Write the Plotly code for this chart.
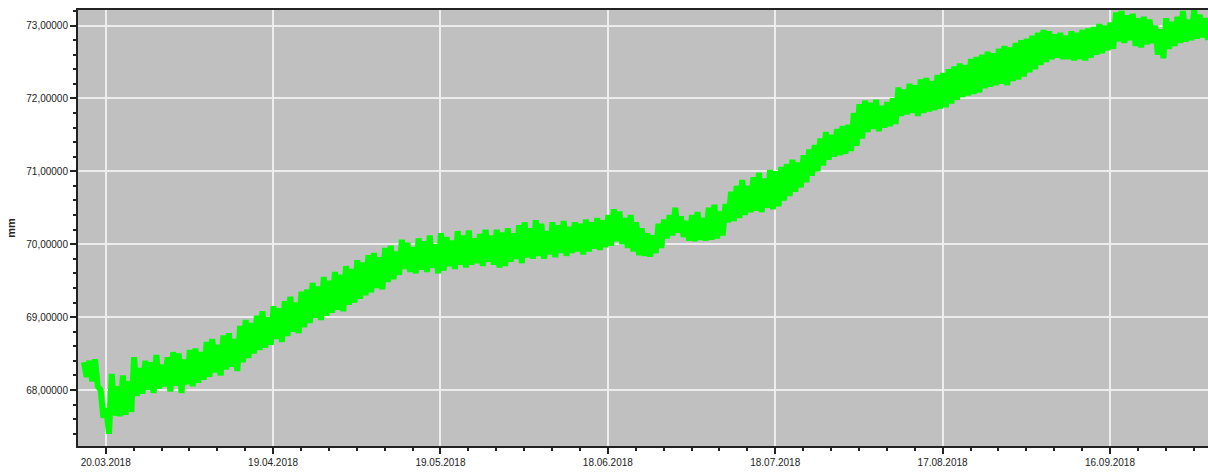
import plotly.graph_objects as go
import pandas as pd

start_time = "2018-03-16 02:00"

# Daily upper (first half-day) and lower (second half-day) readings, mm
upper = [
    68.38, 68.40, 68.42, 68.00, 67.75, 68.22, 68.05, 68.20, 68.12, 68.45,
    68.30, 68.40, 68.38, 68.48, 68.35, 68.45, 68.52, 68.50, 68.42, 68.55,
    68.57, 68.52, 68.66, 68.70, 68.62, 68.75, 68.78, 68.70, 68.88, 68.96,
    68.92, 69.02, 69.08, 69.00, 69.15, 69.12, 69.22, 69.28, 69.20, 69.35,
    69.38, 69.47, 69.42, 69.55, 69.50, 69.62, 69.58, 69.70, 69.66, 69.78,
    69.75, 69.85, 69.88, 69.82, 69.95, 69.98, 69.90, 70.06, 70.02, 69.96,
    70.08, 70.04, 70.12, 70.00, 70.15, 70.10, 70.05, 70.18, 70.12, 70.19,
    70.08, 70.14, 70.20, 70.12, 70.20, 70.16, 70.22, 70.15, 70.26, 70.30,
    70.22, 70.33, 70.28, 70.18, 70.30, 70.26, 70.32, 70.24, 70.30, 70.28,
    70.34, 70.30, 70.36, 70.33, 70.40, 70.48, 70.45, 70.36, 70.40, 70.30,
    70.22, 70.15, 70.12, 70.28, 70.34, 70.40, 70.50, 70.38, 70.32, 70.40,
    70.44, 70.36, 70.50, 70.54, 70.45, 70.55, 70.72, 70.80, 70.88, 70.80,
    70.92, 70.98, 70.90, 71.02, 71.00, 71.06, 71.10, 71.16, 71.12, 71.22,
    71.30, 71.36, 71.45, 71.54, 71.50, 71.58, 71.62, 71.64, 71.80, 71.92,
    71.97, 71.94, 71.98, 71.90, 71.95, 72.00, 72.15, 72.12, 72.20, 72.18,
    72.26, 72.28, 72.24, 72.32, 72.35, 72.40, 72.44, 72.48, 72.46, 72.54,
    72.57, 72.60, 72.64, 72.62, 72.68, 72.72, 72.70, 72.76, 72.80, 72.82,
    72.86, 72.90, 72.94, 72.92, 72.88, 72.90, 72.86, 72.92, 72.90, 72.94,
    72.96, 72.98, 73.02, 73.00, 73.04, 73.18, 73.20, 73.14, 73.16, 73.10,
    73.12, 73.08, 73.00, 72.95, 73.10, 73.05, 73.12, 73.20, 73.08, 73.22,
    73.15, 73.10,
]
lower = [
    68.18, 68.12, 68.05, 67.62, 67.40, 67.65, 67.64, 67.66, 67.70, 67.92,
    67.95, 68.00, 67.96, 68.02, 68.05, 67.98, 68.06, 67.96, 68.08, 68.05,
    68.10, 68.14, 68.18, 68.24, 68.20, 68.28, 68.32, 68.26, 68.38, 68.44,
    68.50, 68.55, 68.58, 68.62, 68.70, 68.66, 68.74, 68.80, 68.78, 68.86,
    68.92, 68.99, 68.96, 69.02, 69.06, 69.10, 69.08, 69.17, 69.20, 69.25,
    69.30, 69.34, 69.40, 69.38, 69.48, 69.52, 69.58, 69.66, 69.62, 69.60,
    69.65, 69.62, 69.68, 69.60, 69.64, 69.70, 69.66, 69.72, 69.68, 69.72,
    69.74, 69.70, 69.76, 69.72, 69.68, 69.70, 69.76, 69.80, 69.74, 69.82,
    69.80, 69.84, 69.80, 69.86, 69.82, 69.88, 69.84, 69.88, 69.90, 69.86,
    69.90, 69.94, 69.92, 69.96, 69.98, 70.04, 70.00, 69.95, 69.90, 69.85,
    69.84, 69.83, 69.88, 69.95, 70.08, 70.12, 70.16, 70.10, 70.05, 70.04,
    70.06, 70.05, 70.06, 70.08, 70.12, 70.30, 70.32, 70.36, 70.40, 70.44,
    70.46, 70.44, 70.50, 70.48, 70.52, 70.60, 70.66, 70.72, 70.78, 70.85,
    70.94, 71.00, 71.08, 71.16, 71.20, 71.22, 71.24, 71.28, 71.35, 71.45,
    71.54, 71.58, 71.55, 71.60, 71.62, 71.65, 71.76, 71.78, 71.80, 71.76,
    71.80, 71.82, 71.84, 71.86, 71.88, 71.93, 71.98, 72.02, 72.04, 72.06,
    72.08, 72.14, 72.16, 72.18, 72.20, 72.18, 72.24, 72.26, 72.30, 72.36,
    72.40, 72.46, 72.50, 72.54, 72.56, 72.54, 72.54, 72.52, 72.54, 72.52,
    72.56, 72.60, 72.62, 72.66, 72.68, 72.78, 72.76, 72.80, 72.72, 72.70,
    72.74, 72.76, 72.60, 72.55, 72.68, 72.72, 72.76, 72.78, 72.80, 72.82,
    72.84, 72.80,
]

tick_dates = ["2018-03-20", "2018-04-19", "2018-05-19", "2018-06-18",
              "2018-07-18", "2018-08-17", "2018-09-16"]
tick_labels = ["20.03.2018", "19.04.2018", "19.05.2018", "18.06.2018",
               "18.07.2018", "17.08.2018", "16.09.2018"]
y_ticks = [68, 69, 70, 71, 72, 73]
y_labels = ["68,00000", "69,00000", "70,00000", "71,00000", "72,00000", "73,00000"]

values = []
for u, l in zip(upper, lower):
    values.append(u)
    values.append(l)
times = pd.date_range(start_time, periods=len(values), freq="12h")

fig = go.Figure()
fig.add_trace(go.Scatter(
    x=times, y=values, mode="lines",
    line=dict(color="#00FF00", width=6),
    showlegend=False, hoverinfo="skip",
))

font = dict(family="Liberation Sans, Arial, sans-serif", size=10, color="#222222")

fig.update_layout(
    width=1208, height=475,
    margin=dict(l=78, r=0, t=10, b=29),
    paper_bgcolor="white",
    plot_bgcolor="#C0C0C0",
    separators=",.",
    font=font,
    xaxis=dict(
        type="date",
        range=["2018-03-15 00:45", "2018-10-03 13:40"],
        tickvals=tick_dates, ticktext=tick_labels,
        showgrid=True, gridcolor="#EDEDED", gridwidth=2,
        showline=True, linecolor="#222222", linewidth=2, mirror=True,
        ticks="outside", ticklen=6, tickwidth=1.5, tickcolor="#222222",
        minor=dict(dtick=5 * 86400000, tick0="2018-03-20", ticks="outside",
                   ticklen=3, tickwidth=1.5, tickcolor="#222222", showgrid=False),
        tickfont=font,
        zeroline=False,
    ),
    yaxis=dict(
        range=[67.232, 73.213],
        tickvals=y_ticks, ticktext=y_labels,
        showgrid=True, gridcolor="#EDEDED", gridwidth=2,
        showline=True, linecolor="#222222", linewidth=2,
        ticks="outside", ticklen=6, tickwidth=1.5, tickcolor="#222222",
        minor=dict(dtick=0.2, tick0=68, ticks="outside", ticklen=3,
                   tickwidth=1.5, tickcolor="#222222", showgrid=False),
        tickfont=font,
        zeroline=False,
        title=dict(text="<b>mm</b>", font=dict(family="Liberation Sans, Arial, sans-serif",
                                               size=11, color="#222222"), standoff=8),
    ),
)

fig.write_html("out.html")
